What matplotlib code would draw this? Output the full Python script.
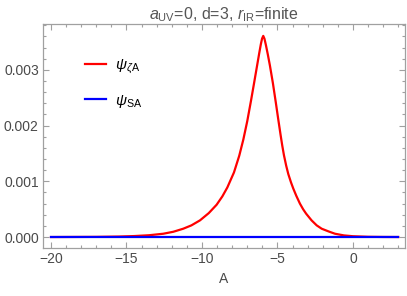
import matplotlib.pyplot as plt
from matplotlib.ticker import MultipleLocator

# values
A_zeta = [-20, -17, -15.5, -14.5, -13.5, -12.56, -11.9, -11.24, -10.7, -10.13,
          -9.55, -9.03, -8.65, -8.32, -7.88, -7.53, -7.26, -7.0, -6.75, -6.55,
          -6.34, -6.2, -6.1, -6.02, -5.94, -5.86, -5.76, -5.64, -5.5, -5.3,
          -5.1, -4.95, -4.79, -4.68, -4.57, -4.42, -4.28, -4.1, -3.95, -3.75,
          -3.51, -3.3, -3.1, -2.74, -2.4, -2.07, -1.6, -1.19, -0.6, 0, 1, 2, 3]
psi_zeta = [0.0000006, 0.0000037, 0.0000095, 0.000018, 0.000033, 0.00006,
            0.000095, 0.00015, 0.00021, 0.0003, 0.00043, 0.00058, 0.00073,
            0.00089, 0.00116, 0.00146, 0.00175, 0.00208, 0.00245, 0.00276,
            0.00309, 0.00331, 0.00346, 0.00356, 0.00361, 0.00356, 0.00344,
            0.00328, 0.00308, 0.00276, 0.0024, 0.00212, 0.00183, 0.00164,
            0.00147, 0.00128, 0.00113, 0.00098, 0.00087, 0.00074, 0.0006,
            0.0005, 0.00042, 0.0003, 0.00021, 0.00015, 0.0001, 0.00006,
            0.00003, 0.000015, 0.000005, 0.000002, 0.000001]
A_S = [-20, 3]
psi_S = [0.0, 0.0]

plt.rcParams['font.family'] = ['Liberation Sans', 'DejaVu Sans']
plt.rcParams['mathtext.fontset'] = 'custom'
plt.rcParams['mathtext.rm'] = 'Liberation Sans'
plt.rcParams['mathtext.it'] = 'Liberation Sans:italic'

grey = '#a0a0a0'
label_col = '#4a4a4a'

fig = plt.figure(figsize=(4.07, 2.96), dpi=100)
ax = fig.add_axes([0.1057, 0.162, 0.889, 0.757])

ax.plot(A_zeta, psi_zeta, color='#ff0000', lw=1.6, solid_joinstyle='round',
        label=r'$\psi_{\zeta\mathrm{A}}$')
ax.plot(A_S, psi_S, color='#0000ff', lw=1.6, label=r'$\psi_{\mathrm{SA}}$')

ax.set_xlim(-20.53, 3.44)
ax.set_ylim(-0.000197, 0.003824)
ax.xaxis.set_major_locator(MultipleLocator(5))
ax.xaxis.set_minor_locator(MultipleLocator(1))
ax.yaxis.set_major_locator(MultipleLocator(0.001))
ax.yaxis.set_minor_locator(MultipleLocator(0.0002))
ax.yaxis.set_major_formatter(plt.FuncFormatter(lambda v, p: f'{v:.3f}'))
ax.xaxis.set_major_formatter(plt.FuncFormatter(lambda v, p: f'{v:g}'.replace('-', '\u2212')))

for s in ax.spines.values():
    s.set_color(grey)
    s.set_linewidth(0.9)
ax.tick_params(which='both', direction='in', top=True, right=True, color=grey,
               labelcolor=label_col, labelsize=10, width=0.8)
ax.tick_params(which='major', length=4.5, pad=3)
ax.tick_params(which='minor', length=2.5)

ax.set_xlabel('A', fontsize=10, color=label_col, labelpad=4)
ax.set_title(r'$a_{\mathrm{UV}}$=0, d=3, $r_{\mathrm{IR}}$=finite', fontsize=11.5,
             color='#555555', pad=3)

leg = ax.legend(loc='upper left', bbox_to_anchor=(0.078, 0.913), frameon=False,
                fontsize=11, handlelength=1.35, labelspacing=1.1, handletextpad=0.6)

fig.savefig('out.png', dpi=100)
